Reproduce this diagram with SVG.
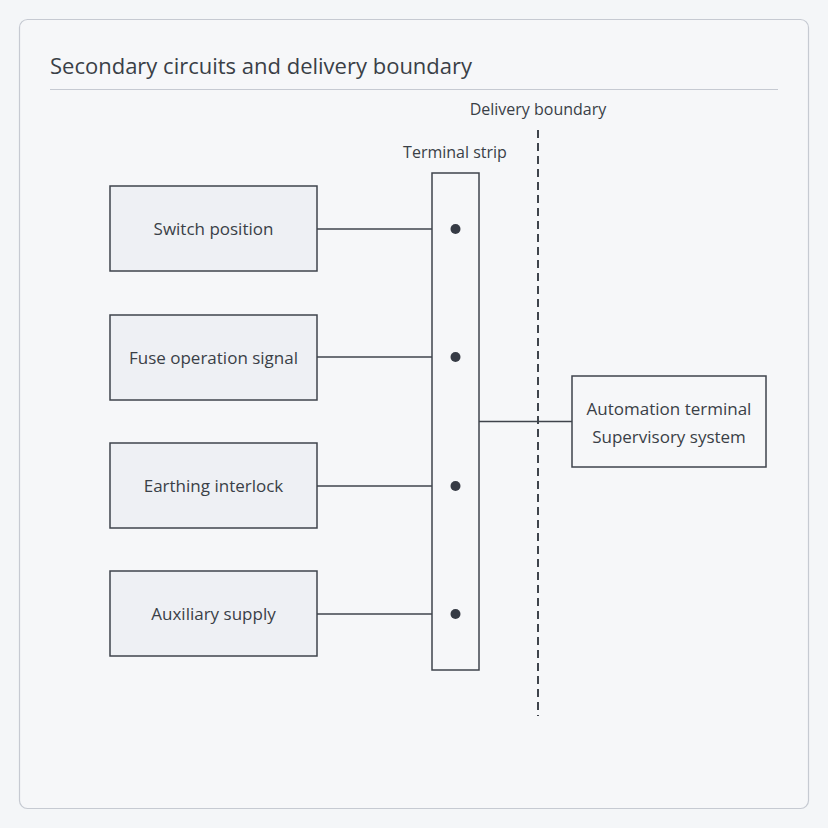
<svg xmlns="http://www.w3.org/2000/svg" width="828" height="828" viewBox="0 0 828 828">
<style>
text{font-family:"Open Sans","Noto Sans","Liberation Sans",sans-serif;fill:#3a3f47}
.node{fill:#eef0f4;stroke:#3f444c;stroke-width:1.5}
.lbl{font-size:17px;text-anchor:middle}
.wire{stroke:#3f444c;stroke-width:1.5;fill:none}
.dot{fill:#363b45}
</style>
<rect x="0" y="0" width="828" height="828" fill="#f4f6f8"/>
<rect x="19.5" y="19.5" width="789" height="789" rx="8" fill="#f6f7f9" stroke="#c6cad2" stroke-width="1.2"/>
<text x="50" y="74" font-size="22">Secondary circuits and delivery boundary</text>
<line x1="50" y1="89.5" x2="778" y2="89.5" stroke="#c6cad2" stroke-width="1.2"/>
<text x="538" y="115" font-size="16" text-anchor="middle">Delivery boundary</text>
<text x="455" y="158" font-size="16" text-anchor="middle">Terminal strip</text>
<g id="connectors">
<line class="wire" x1="317" y1="229" x2="432" y2="229"/>
<line class="wire" x1="317" y1="357" x2="432" y2="357"/>
<line class="wire" x1="317" y1="486" x2="432" y2="486"/>
<line class="wire" x1="317" y1="614" x2="432" y2="614"/>
<line class="wire" x1="479" y1="421.5" x2="572" y2="421.5"/>
<line x1="538" y1="130" x2="538" y2="716" stroke="#3f444c" stroke-width="2" stroke-dasharray="8 5"/>
</g>
<g id="switch-position"><rect class="node" x="110" y="186" width="207" height="85"/><text class="lbl" x="213.5" y="235">Switch position</text></g>
<g id="fuse-operation"><rect class="node" x="110" y="315" width="207" height="85"/><text class="lbl" x="213.5" y="364">Fuse operation signal</text></g>
<g id="earthing-interlock"><rect class="node" x="110" y="443" width="207" height="85"/><text class="lbl" x="213.5" y="492">Earthing interlock</text></g>
<g id="auxiliary-supply"><rect class="node" x="110" y="571" width="207" height="85"/><text class="lbl" x="213.5" y="620">Auxiliary supply</text></g>
<g id="terminal-strip">
<rect x="432" y="173" width="47" height="497" fill="#f6f7f9" stroke="#3f444c" stroke-width="1.5"/>
<circle class="dot" cx="455.5" cy="229" r="5"/>
<circle class="dot" cx="455.5" cy="357" r="5"/>
<circle class="dot" cx="455.5" cy="486" r="5"/>
<circle class="dot" cx="455.5" cy="614" r="5"/>
</g>
<g id="automation-terminal"><rect x="572" y="376" width="194" height="91" fill="#f6f7f9" stroke="#3f444c" stroke-width="1.5"/><text class="lbl" x="669" y="415">Automation terminal</text><text class="lbl" x="669" y="443">Supervisory system</text></g>
</svg>
